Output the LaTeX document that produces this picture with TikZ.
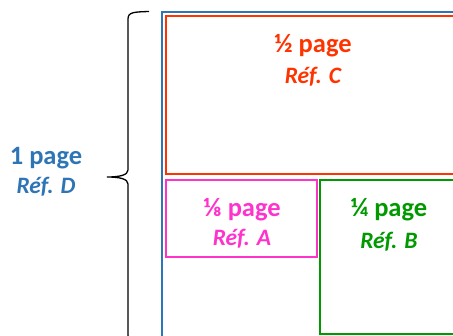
\documentclass[tikz,border=0pt]{standalone}
\usepackage{fontspec}
\setmainfont{Carlito}
\usetikzlibrary{positioning}

\definecolor{refD}{HTML}{2E75B6}
\definecolor{refC}{HTML}{FF3300}
\definecolor{refA}{HTML}{FF33CC}
\definecolor{refB}{HTML}{009900}

\begin{document}
\begin{tikzpicture}[x=1pt, y=-1pt,
    big/.style={font=\fontsize{26.5}{30}\selectfont\bfseries},
    ref/.style={font=\fontsize{23.5}{27}\selectfont\bfseries\itshape},
    frame/.style={line width=1.8pt}]
  \useasboundingbox (0,0) rectangle (453,336);
  \clip (0,0) rectangle (453,336);

  % page and ads
  \draw[frame, refD] (162,12) rectangle (470,360);
  \draw[frame, refC] (166,16) rectangle (466,174);
  \draw[frame, refA] (166,180) rectangle (317,257);
  \draw[line width=1.5pt, refB] (320,180) rectangle (466,334);

  % labels
  \foreach \n/\x/\y/\c/\t/\r/\g in {C/313/46/refC/½/C/7, D/46/158/refD/1/D/6,
      A/242/210/refA/⅛/A/5, B/389/210/refB/¼/B/8} {
    \node[big, text=\c, inner sep=1pt] (size\n) at (\x,\y) {\t\ page};
    \node[ref, text=\c, inner sep=1pt, below=\g pt of size\n] (ref\n) {Réf. \r};
  }

  % brace for the whole page
  \coordinate (top) at (149,11.5);
  \coordinate (tip) at (107,177);
  \coordinate (bot) at (149,342.5);
  \draw[line width=1.3pt]
    (top) .. controls (134,12) and (128,12) .. (128,19) -- (128,170)
    .. controls (128,175) and (120,177) .. (tip)
    .. controls (120,177) and (128,179) .. (128,184) -- (128,335)
    .. controls (128,342) and (134,342) .. (bot);
\end{tikzpicture}
\end{document}
